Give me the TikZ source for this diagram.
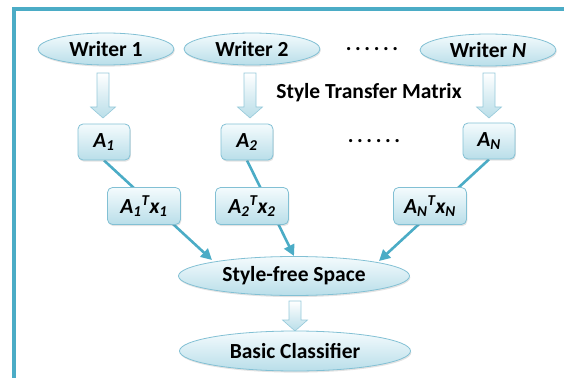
\documentclass[tikz,border=0pt]{standalone}
\usepackage{fontspec}
\setmainfont{Carlito}
\usetikzlibrary{shapes.geometric,arrows.meta,shadows,backgrounds,calc}
\definecolor{framec}{RGB}{75,172,198}
\definecolor{edgec}{RGB}{130,192,212}
\definecolor{fillt}{RGB}{244,251,253}
\definecolor{fillb}{RGB}{185,222,233}
\definecolor{linec}{RGB}{75,172,198}
\tikzset{
 base/.style={draw=edgec, line width=0.8pt, top color=fillt, bottom color=fillb,
   font=\fontsize{21.5}{25}\selectfont\bfseries,
   drop shadow={opacity=0.22, shadow xshift=0.8pt, shadow yshift=-1.6pt}, inner sep=0pt},
 oval/.style={base, ellipse, minimum width=136pt, minimum height=32pt},
 bigoval/.style={base, ellipse, minimum width=231pt, minimum height=39pt},
 box/.style={base, rounded corners=5pt, minimum width=52pt, minimum height=36pt},
 wbox/.style={box, minimum width=73pt, minimum height=37pt},
 conn/.style={draw=linec, line width=2.6pt, -{Triangle[length=11pt,width=11pt]}},
 fatarr/.style={draw=edgec!85, line width=0.6pt, top color=white, bottom color=fillb},
 lbl/.style={font=\fontsize{21.5}{25}\selectfont\bfseries, inner sep=0pt},
 framel/.style={draw=framec, line width=3.6pt},
}
\newcommand\fatarrow[2]{\path[fatarr] let \p1=(#1), \p2=(#2) in
  (\x2-6pt,\y1) -- (\x2+6pt,\y1) -- (\x2+6pt,\y2+11pt) -- (\x2+12.5pt,\y2+11pt)
  -- (\x2,\y2) -- (\x2-12.5pt,\y2+11pt) -- (\x2-6pt,\y2+11pt) -- cycle;}
\begin{document}
\begin{tikzpicture}[x=1pt,y=-1pt]
\useasboundingbox (0,0) rectangle (564,377);
\draw[framel] (566,9) -- (14,9) -- (14,379);

% writers
\node[oval] (w1) at (106,49) {Writer 1};
\node[oval] (w2) at (252,49) {Writer 2};
\node[oval] (wn) at (488,50) {Writer \textit{N}};
\node[lbl] (d1) at (372,49) {.\,.\,.\,.\,.\,.};
\node[lbl] (stm) at (369,93) {Style Transfer Matrix};

% block arrows writer -> A
\coordinate (f1a) at (103,73); \coordinate (f1b) at (103,118);
\coordinate (f2a) at (250,73); \coordinate (f2b) at (250,118);
\coordinate (fna) at (489,73); \coordinate (fnb) at (489,118);
\fatarrow{f1a}{f1b}
\fatarrow{f2a}{f2b}
\fatarrow{fna}{fnb}

% matrices
\node[box] (a1) at (104,142) {\itshape A\textsubscript{1}};
\node[box] (a2) at (247,142) {\itshape A\textsubscript{2}};
\node[box] (an) at (489,141) {\itshape A\textsubscript{N}};
\node[lbl] (d2) at (374,141) {.\,.\,.\,.\,.\,.};

% projections
\node[wbox] (p1) at (144,206) {\itshape A\textsubscript{1}\textsuperscript{T}x\textsubscript{1}};
\node[wbox] (p2) at (252,206) {\itshape A\textsubscript{2}\textsuperscript{T}x\textsubscript{2}};
\node[wbox] (pn) at (430,206) {\itshape A\textsubscript{N}\textsuperscript{T}x\textsubscript{N}};

% style-free space and classifier
\coordinate (f4a) at (295,301); \coordinate (f4b) at (295,331);
\node[bigoval] (sf) at (294,276) {Style-free Space};
\fatarrow{f4a}{f4b}
\node[bigoval, minimum height=40pt] (bc) at (295,351) {Basic Classifier};

% connectors behind the projection boxes
\coordinate (t1) at (212,260);
\coordinate (t2) at (294,256);
\coordinate (tn) at (379,261);
\begin{pgfonlayer}{background}
\draw[conn] (a1.south) -- (t1);
\draw[conn] (a2.south) -- (t2);
\draw[conn] (an.south) -- (tn);
\end{pgfonlayer}
\end{tikzpicture}
\end{document}
